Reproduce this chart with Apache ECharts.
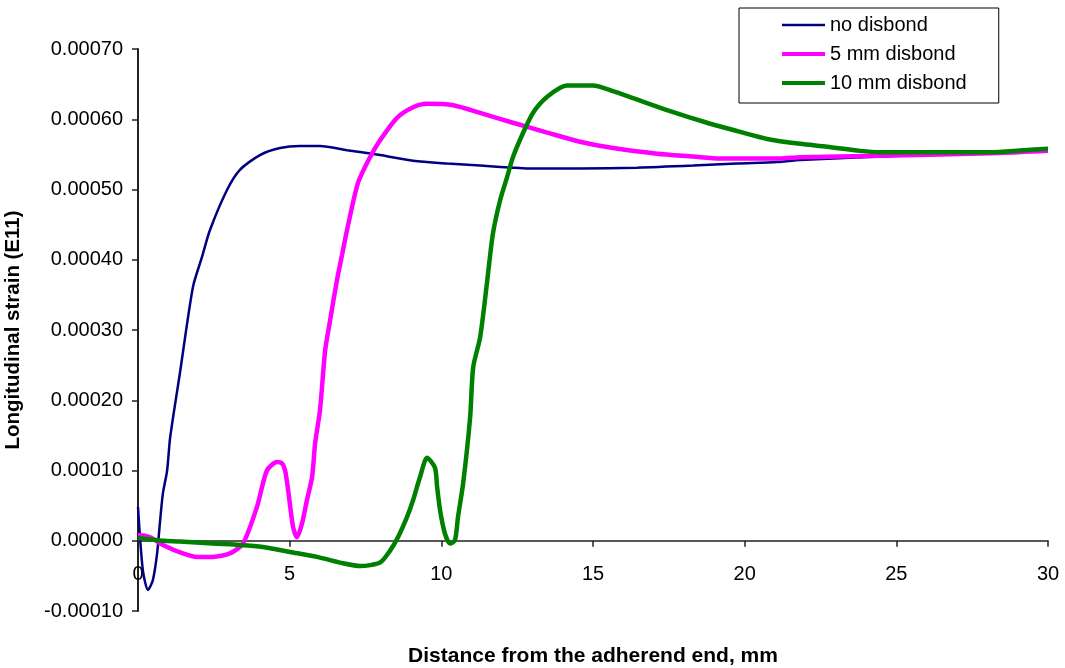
<!DOCTYPE html>
<html>
<head>
<meta charset="utf-8">
<script src="https://cdn.jsdelivr.net/npm/echarts@6/dist/echarts.min.js"></script>
<style>
html,body{margin:0;padding:0;background:#fff;}
#chart{width:1065px;height:668px;}
</style>
</head>
<body>
<div id="chart"></div>
<script>
// ---- data ----
var seriesNames = ['no disbond', '5 mm disbond', '10 mm disbond'];
var xTicks = [0, 5, 10, 15, 20, 25, 30];

var noDisbondX = [0, 0.16, 0.33, 0.49, 0.63, 0.73, 0.82, 0.96, 1.06, 1.38, 1.81, 2.11, 2.37, 2.93, 3.36, 4.02, 4.68, 5.34, 6.0, 6.89, 7.98, 9.07, 10.19, 11.28, 12.36, 12.83, 14.57, 16.45, 18.3, 19.75, 21.07, 21.83, 25.12, 28.42, 29.74, 30];
var noDisbondY = [0.000048, -0.000042, -0.00007, -0.000056, -0.000018, 0.000029, 0.000067, 0.0001, 0.000147, 0.000238, 0.000361, 0.000404, 0.000442, 0.000499, 0.000528, 0.000549, 0.000559, 0.000562, 0.000562, 0.000556, 0.000549, 0.000541, 0.000537, 0.000534, 0.000531, 0.00053, 0.00053, 0.000531, 0.000534, 0.000537, 0.000539, 0.000542, 0.000548, 0.000553, 0.000558, 0.000558];

var disbond5X = [0, 0.07, 0.4, 0.82, 1.48, 1.95, 2.47, 3.03, 3.46, 3.92, 4.25, 4.58, 4.75, 4.85, 4.95, 5.11, 5.24, 5.41, 5.57, 5.74, 5.84, 6.0, 6.17, 6.33, 6.56, 6.76, 6.89, 7.25, 7.65, 7.98, 8.54, 9.07, 9.53, 10.39, 11.28, 12.36, 13.49, 14.57, 15.66, 17.11, 18.3, 19.19, 21.17, 21.83, 24.46, 28.42, 30];
var disbond5Y = [0.000008, 0.000008, 0.000005, -0.000006, -0.000018, -0.000023, -0.000023, -0.000018, -0.000004, 0.000048, 0.0001, 0.000112, 0.00011, 0.0001, 0.000072, 0.00002, 0.000005, 0.000025, 0.000058, 0.000091, 0.000139, 0.000186, 0.000271, 0.000313, 0.000371, 0.000414, 0.000442, 0.000509, 0.000546, 0.00057, 0.000602, 0.000617, 0.000622, 0.00062, 0.000609, 0.000595, 0.000581, 0.000568, 0.000559, 0.000551, 0.000547, 0.000544, 0.000544, 0.000546, 0.000548, 0.000552, 0.000555];

var disbond10X = [0, 0.82, 1.38, 2.47, 3.36, 4.12, 5.01, 5.9, 6.76, 7.32, 7.98, 8.31, 8.57, 8.87, 9.07, 9.3, 9.53, 9.79, 9.86, 9.96, 10.12, 10.29, 10.45, 10.55, 10.72, 10.95, 11.05, 11.28, 11.51, 11.7, 11.94, 12.17, 12.36, 12.69, 13.02, 13.49, 14.14, 15.0, 15.66, 16.32, 17.44, 18.76, 19.85, 20.74, 21.83, 22.72, 23.8, 24.46, 28.1, 29.2, 30];
var disbond10Y = [0.000004, 0.0, -0.000001, -0.000004, -0.000006, -0.000009, -0.000016, -0.000023, -0.000032, -0.000036, -0.000031, -0.000014, 0.000005, 0.000034, 0.000058, 0.000091, 0.000118, 0.000104, 0.000077, 0.000043, 0.00001, -0.000004, 0.000001, 0.000034, 0.000082, 0.000176, 0.000247, 0.00029, 0.000369, 0.000437, 0.000485, 0.000518, 0.000546, 0.00058, 0.000609, 0.000632, 0.000648, 0.000648, 0.00064, 0.00063, 0.000613, 0.000595, 0.000582, 0.000572, 0.000565, 0.000561, 0.000555, 0.000553, 0.000553, 0.000556, 0.000558];

var seriesColors = ['#000080', '#FF00FF', '#008000'];
var seriesWidths = [2.5, 4.5, 4.5];

var Y_MIN = -0.0001, Y_MAX = 0.0007;
var GRID_TOP = 49, GRID_BOTTOM = 57, CHART_H = 668;

function pairs(xs, ys) { return xs.map(function (x, i) { return [x, ys[i]]; }); }

// place the x axis line at y = 0 (the axis crosses the value axis at zero)
var plotH = CHART_H - GRID_TOP - GRID_BOTTOM;
var zeroOffset = -plotH * (0 - Y_MIN) / (Y_MAX - Y_MIN);

var chart = echarts.init(document.getElementById('chart'), null, {renderer: 'canvas'});
var FONT = 'Liberation Sans, Arial, sans-serif';
chart.setOption({
  animation: false,
  backgroundColor: '#fff',
  textStyle: {fontFamily: FONT},
  grid: {left: 138, right: 17, top: GRID_TOP, bottom: GRID_BOTTOM, containLabel: false, outerBoundsMode: 'none'},
  legend: {
    orient: 'vertical',
    left: 739, top: 8,
    width: 261,
    padding: [7, 32, 10, 41],
    borderColor: '#000', borderWidth: 1,
    itemWidth: 43, itemHeight: 20, itemGap: 9,
    itemStyle: {opacity: 0},
    textStyle: {fontSize: 20, color: '#000', fontFamily: FONT},
    data: seriesNames.map(function (n, i) {
      return {name: n, lineStyle: {color: seriesColors[i], width: i === 0 ? 2.5 : 4}};
    })
  },
  xAxis: {
    type: 'value', min: 0, max: 30, interval: 5,
    position: 'bottom', offset: zeroOffset,
    name: 'Distance from the adherend end, mm',
    nameLocation: 'middle', nameGap: 105,
    nameTextStyle: {fontSize: 21, fontWeight: 'bold', color: '#000', fontFamily: FONT},
    axisLine: {onZero: false, lineStyle: {color: '#222', width: 1.5}},
    axisTick: {show: true, length: 6, lineStyle: {color: '#222', width: 1.5}},
    axisLabel: {fontSize: 20, color: '#000', margin: 24, fontFamily: FONT,
      formatter: function (v) { return xTicks.indexOf(v) >= 0 ? String(v) : ''; }},
    splitLine: {show: false}
  },
  yAxis: {
    type: 'value', min: Y_MIN, max: Y_MAX, interval: 0.0001,
    name: 'Longitudinal strain (E11)',
    nameLocation: 'middle', nameGap: 114,
    nameTextStyle: {fontSize: 20.5, fontWeight: 'bold', color: '#000', fontFamily: FONT},
    axisLine: {show: true, lineStyle: {color: '#222', width: 2}},
    axisTick: {show: true, length: 6, lineStyle: {color: '#222', width: 1.5}},
    axisLabel: {fontSize: 20, color: '#000', margin: 15, fontFamily: FONT,
      formatter: function (v) { return v.toFixed(5); }},
    splitLine: {show: false}
  },
  series: [0, 1, 2].map(function (i) {
    var xs = [noDisbondX, disbond5X, disbond10X][i];
    var ys = [noDisbondY, disbond5Y, disbond10Y][i];
    return {name: seriesNames[i], type: 'line', data: pairs(xs, ys), symbol: 'none', smooth: 0.25,
      lineStyle: {color: seriesColors[i], width: seriesWidths[i]}, itemStyle: {color: seriesColors[i]}};
  })
});
</script>
</body>
</html>
